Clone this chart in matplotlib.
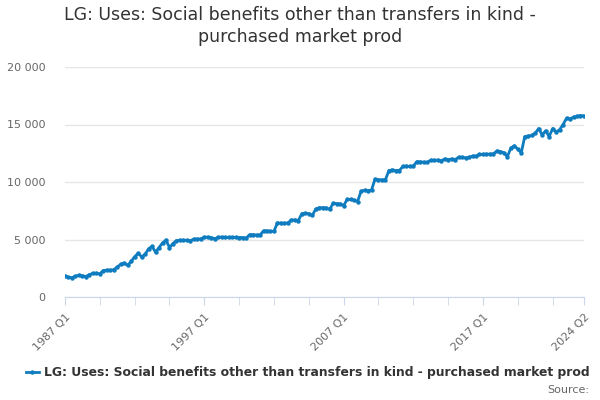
import matplotlib.pyplot as plt
from matplotlib.ticker import FuncFormatter

# quarterly values, 1987 Q1 .. 2024 Q2
values = [
    1850, 1720, 1680, 1800, 1900, 1850, 1780, 1950, 2050, 2050,
    2020, 2300, 2330, 2320, 2380, 2600, 2850, 2950, 2750, 3100,
    3500, 3800, 3500, 3700, 4200, 4400, 3900, 4300, 4700, 4950,
    4300, 4650, 4900, 4930, 4930, 4930, 4900, 5030, 5030, 5060,
    5200, 5200, 5170, 5060, 5200, 5200, 5180, 5180, 5180, 5180,
    5170, 5170, 5120, 5420, 5420, 5390, 5390, 5750, 5750, 5700,
    5720, 6450, 6420, 6400, 6450, 6700, 6700, 6650, 7250, 7280,
    7250, 7100, 7650, 7770, 7770, 7750, 7620, 8150, 8120, 8100,
    7950, 8480, 8480, 8420, 8300, 9200, 9280, 9250, 9300, 10250,
    10200, 10180, 10200, 11000, 11050, 11000, 11000, 11350, 11380, 11350,
    11380, 11770, 11750, 11720, 11700, 11900, 11880, 11900, 11850, 12000,
    11950, 12000, 11950, 12150, 12150, 12100, 12150, 12250, 12250, 12400,
    12400, 12420, 12420, 12450, 12700, 12650, 12550, 12200, 12950, 13150,
    12850, 12550, 13950, 14000, 14050, 14250, 14650, 14100, 14450, 13950,
    14650, 14350, 14550, 15000, 15550, 15480, 15650, 15700, 15780, 15750,
]
quarters = [f"{1987 + i // 4} Q{i % 4 + 1}" for i in range(len(values))]
label_quarters = ["1987 Q1", "1997 Q1", "2007 Q1", "2017 Q1", "2024 Q2"]
y_ticks = [0, 5000, 10000, 15000, 20000]

series_name = "LG: Uses: Social benefits other than transfers in kind - purchased market prod"
title = "LG: Uses: Social benefits other than transfers in kind -\npurchased market prod"

x = list(range(len(values)))

fig = plt.figure(figsize=(6, 4), dpi=100)
ax = fig.add_axes([0.1083, 0.2575, 0.865, 0.575])

line, = ax.plot(x, values, color="#0f7cc0", linewidth=2, marker="o",
                markersize=2.2, label=series_name)

ax.set_xlim(0, len(values) - 1)
ax.set_ylim(0, 20000)
ax.set_yticks(y_ticks)
ax.yaxis.set_major_formatter(FuncFormatter(lambda v, p: f"{int(v):,}".replace(",", " ")))
ax.grid(axis="y", color="#e6e6e6", linewidth=1)
ax.set_axisbelow(True)

# minor ticks every 10 quarters plus last, labels only on some
tick_pos = list(range(0, len(values), 10)) + [len(values) - 1]
ax.set_xticks(tick_pos, minor=True)
ax.set_xticks([quarters.index(q) for q in label_quarters])
ax.set_xticklabels(label_quarters, rotation=45, ha="right", rotation_mode="anchor")
ax.tick_params(axis="x", which="both", length=6, color="#ccd6eb", labelsize=8,
               labelcolor="#666666", pad=5)
ax.tick_params(axis="y", length=0, labelsize=8, labelcolor="#666666", pad=14)

for s in ["top", "right", "left"]:
    ax.spines[s].set_visible(False)
ax.spines["bottom"].set_color("#ccd6eb")

fig.suptitle(title, fontsize=12.5, color="#333333", y=0.985, linespacing=1.25)

fig.legend(handles=[line], loc="center right", bbox_to_anchor=(0.982, 0.068), frameon=False,
           prop={"weight": "bold", "size": 8.9}, labelcolor="#333333",
           handlelength=1.1, handletextpad=0.35, borderaxespad=0, borderpad=0)
fig.text(0.982, 0.025, "Source:", ha="right", va="center", fontsize=8, color="#666666")

fig.savefig("out.png", dpi=100)
